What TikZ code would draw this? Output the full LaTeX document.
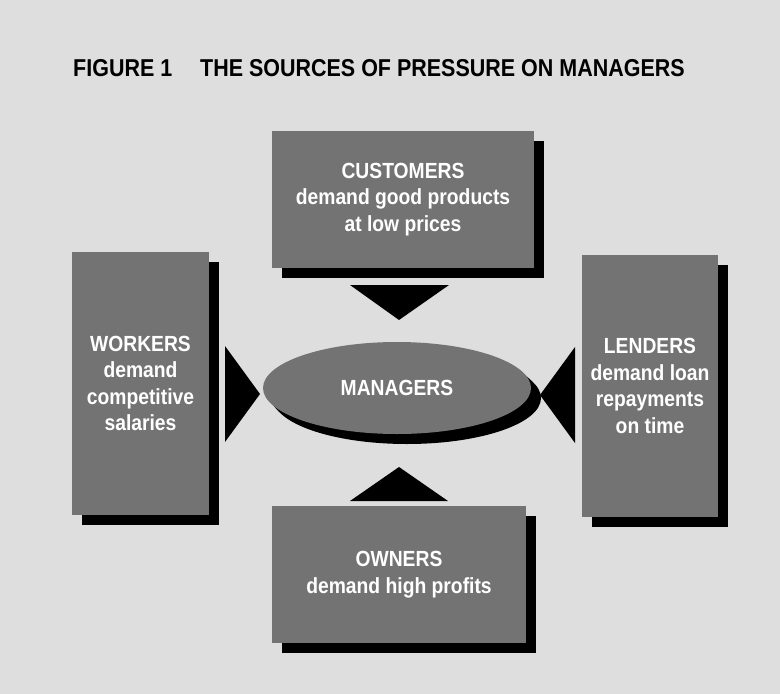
\documentclass[tikz,border=0pt]{standalone}
\usepackage{fontspec}
\setmainfont{Liberation Sans}
\newfontfamily\titlefont{Liberation Sans}[FakeStretch=0.88]
\newfontfamily\boxfont{Liberation Sans}[FakeStretch=0.88]
\usetikzlibrary{shapes.geometric,shadows}
\definecolor{bgc}{gray}{0.87}
\definecolor{boxc}{gray}{0.45}
\begin{document}
\begin{tikzpicture}[x=1bp,y=-1bp,
  bx/.style={fill=boxc, inner sep=0pt, text=white, align=center,
    font=\boxfont\bfseries\fontsize{22}{26.5}\selectfont,
    drop shadow={shadow xshift=10bp, shadow yshift=-10bp, fill=black, opacity=1}},
  tri/.style={fill=black}]
\fill[bgc] (0,0) rectangle (780,694);
\useasboundingbox (0,0) rectangle (780,694);
\node[anchor=base west, inner sep=0pt, font=\titlefont\bfseries\fontsize{24.5}{28}\selectfont] (title) at (73,77) {FIGURE 1\hspace{28pt}THE SOURCES OF PRESSURE ON MANAGERS};
\node[bx, minimum width=262bp, minimum height=137bp] (cust) at (403,199.5) {CUSTOMERS\\demand good products\\at low prices};
\node[bx, minimum width=137bp, minimum height=263bp] (work) at (140.5,383.5) {WORKERS\\demand\\competitive\\salaries};
\node[bx, minimum width=136bp, minimum height=262bp] (lend) at (650,386) {LENDERS\\demand loan\\repayments\\on time};
\node[bx, minimum width=254bp, minimum height=137bp] (own) at (399,574.5) {OWNERS\\demand high profits};
\node[bx, ellipse, minimum width=268bp, minimum height=92bp,
  drop shadow={shadow xshift=7bp, shadow yshift=-7bp, fill=black, opacity=1}] (mgr) at (397,388) {MANAGERS};
\fill[tri] (350,285) -- (449,285) -- (399,320) -- cycle;
\fill[tri] (225,346) -- (225,442) -- (260,394) -- cycle;
\fill[tri] (575,347) -- (575,443) -- (540,395) -- cycle;
\fill[tri] (350,501) -- (448,501) -- (399,467) -- cycle;
\end{tikzpicture}
\end{document}
